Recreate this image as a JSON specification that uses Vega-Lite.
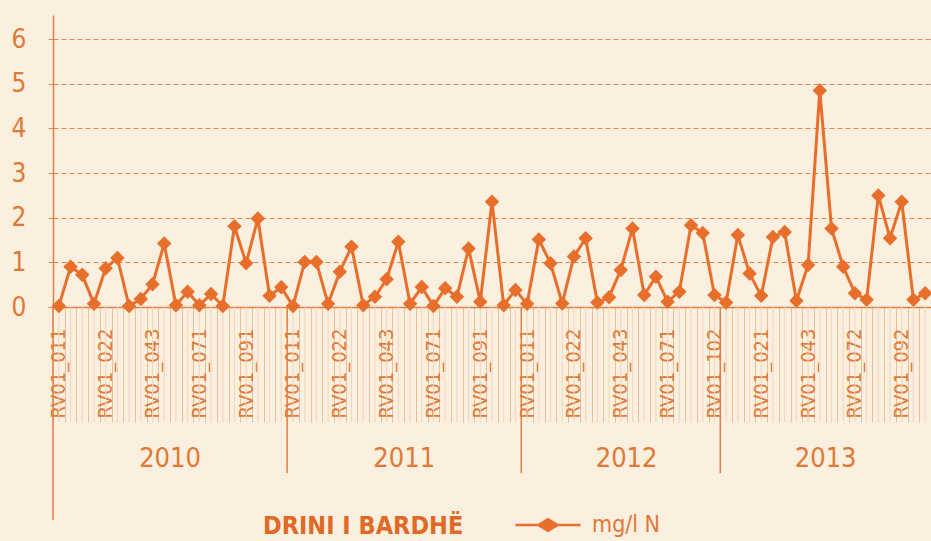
{
  "$schema": "https://vega.github.io/schema/vega-lite/v6.json",
  "autosize": "none",
  "width": 878,
  "height": 292,
  "padding": {"left": 53, "top": 15, "right": 0, "bottom": 234},
  "background": "#FBEFDF",
  "config": {
    "view": {"stroke": null},
    "font": "Liberation Sans Narrow, DejaVu Sans Condensed, sans-serif"
  },
  "data": {
    "values": [
      {"id": "2010 RV01_011", "year": "2010", "value": 0.02},
      {"id": "2010 RV01_012", "year": "2010", "value": 0.9},
      {"id": "2010 RV01_013", "year": "2010", "value": 0.72},
      {"id": "2010 RV01_021", "year": "2010", "value": 0.07},
      {"id": "2010 RV01_022", "year": "2010", "value": 0.87},
      {"id": "2010 RV01_023", "year": "2010", "value": 1.1},
      {"id": "2010 RV01_031", "year": "2010", "value": 0.02},
      {"id": "2010 RV01_042", "year": "2010", "value": 0.18},
      {"id": "2010 RV01_043", "year": "2010", "value": 0.51},
      {"id": "2010 RV01_051", "year": "2010", "value": 1.42},
      {"id": "2010 RV01_061", "year": "2010", "value": 0.04},
      {"id": "2010 RV01_062", "year": "2010", "value": 0.34},
      {"id": "2010 RV01_071", "year": "2010", "value": 0.04},
      {"id": "2010 RV01_072", "year": "2010", "value": 0.29},
      {"id": "2010 RV01_081", "year": "2010", "value": 0.02},
      {"id": "2010 RV01_082", "year": "2010", "value": 1.81},
      {"id": "2010 RV01_091", "year": "2010", "value": 0.98},
      {"id": "2010 RV01_092", "year": "2010", "value": 1.98},
      {"id": "2010 RV01_101", "year": "2010", "value": 0.25},
      {"id": "2010 RV01_102", "year": "2010", "value": 0.44},
      {"id": "2011 RV01_011", "year": "2011", "value": 0.02},
      {"id": "2011 RV01_012", "year": "2011", "value": 1.01},
      {"id": "2011 RV01_013", "year": "2011", "value": 1.01},
      {"id": "2011 RV01_021", "year": "2011", "value": 0.07},
      {"id": "2011 RV01_022", "year": "2011", "value": 0.79},
      {"id": "2011 RV01_023", "year": "2011", "value": 1.35},
      {"id": "2011 RV01_031", "year": "2011", "value": 0.04},
      {"id": "2011 RV01_042", "year": "2011", "value": 0.23},
      {"id": "2011 RV01_043", "year": "2011", "value": 0.62},
      {"id": "2011 RV01_051", "year": "2011", "value": 1.46},
      {"id": "2011 RV01_061", "year": "2011", "value": 0.07},
      {"id": "2011 RV01_062", "year": "2011", "value": 0.45},
      {"id": "2011 RV01_071", "year": "2011", "value": 0.02},
      {"id": "2011 RV01_072", "year": "2011", "value": 0.42},
      {"id": "2011 RV01_081", "year": "2011", "value": 0.23},
      {"id": "2011 RV01_082", "year": "2011", "value": 1.31},
      {"id": "2011 RV01_091", "year": "2011", "value": 0.12},
      {"id": "2011 RV01_092", "year": "2011", "value": 2.36},
      {"id": "2011 RV01_101", "year": "2011", "value": 0.04},
      {"id": "2011 RV01_102", "year": "2011", "value": 0.38},
      {"id": "2012 RV01_011", "year": "2012", "value": 0.07},
      {"id": "2012 RV01_012", "year": "2012", "value": 1.51},
      {"id": "2012 RV01_013", "year": "2012", "value": 0.98},
      {"id": "2012 RV01_021", "year": "2012", "value": 0.08},
      {"id": "2012 RV01_022", "year": "2012", "value": 1.13},
      {"id": "2012 RV01_023", "year": "2012", "value": 1.54},
      {"id": "2012 RV01_031", "year": "2012", "value": 0.1},
      {"id": "2012 RV01_042", "year": "2012", "value": 0.22},
      {"id": "2012 RV01_043", "year": "2012", "value": 0.83},
      {"id": "2012 RV01_051", "year": "2012", "value": 1.76},
      {"id": "2012 RV01_061", "year": "2012", "value": 0.27},
      {"id": "2012 RV01_062", "year": "2012", "value": 0.68},
      {"id": "2012 RV01_071", "year": "2012", "value": 0.12},
      {"id": "2012 RV01_081", "year": "2012", "value": 0.34},
      {"id": "2012 RV01_091", "year": "2012", "value": 1.83},
      {"id": "2012 RV01_101", "year": "2012", "value": 1.66},
      {"id": "2012 RV01_102", "year": "2012", "value": 0.27},
      {"id": "2013 RV01_011", "year": "2013", "value": 0.1},
      {"id": "2013 RV01_012", "year": "2013", "value": 1.61},
      {"id": "2013 RV01_013", "year": "2013", "value": 0.75},
      {"id": "2013 RV01_021", "year": "2013", "value": 0.25},
      {"id": "2013 RV01_022", "year": "2013", "value": 1.57},
      {"id": "2013 RV01_031", "year": "2013", "value": 1.68},
      {"id": "2013 RV01_042", "year": "2013", "value": 0.14},
      {"id": "2013 RV01_043", "year": "2013", "value": 0.94},
      {"id": "2013 RV01_051", "year": "2013", "value": 4.85},
      {"id": "2013 RV01_061", "year": "2013", "value": 1.76},
      {"id": "2013 RV01_062", "year": "2013", "value": 0.9},
      {"id": "2013 RV01_072", "year": "2013", "value": 0.31},
      {"id": "2013 RV01_081", "year": "2013", "value": 0.16},
      {"id": "2013 RV01_082", "year": "2013", "value": 2.5},
      {"id": "2013 RV01_091", "year": "2013", "value": 1.54},
      {"id": "2013 RV01_092", "year": "2013", "value": 2.36},
      {"id": "2013 RV01_101", "year": "2013", "value": 0.16},
      {"id": "2013 RV01_102", "year": "2013", "value": 0.31}
    ]
  },
  "layer": [
    {
      "mark": {"type": "rule", "color": "#F1D5BA", "strokeWidth": 1},
      "encoding": {
        "x": {"field": "id", "type": "nominal", "sort": null, "title": null, "bandPosition": 0.5,
              "scale": {"type": "band", "paddingInner": 0, "paddingOuter": 0}},
        "y": {"datum": 0, "type": "quantitative"},
        "y2": {"datum": -2.58}
      }
    },
    {
      "transform": [{"filter": "indexof(['2011 RV01_011','2012 RV01_011','2013 RV01_011'], datum.id) >= 0"}],
      "mark": {"type": "rule", "color": "#E27F42", "strokeWidth": 1.5},
      "encoding": {
        "x": {"field": "id", "type": "nominal", "sort": null, "title": null, "bandPosition": 0},
        "y": {"datum": 0, "type": "quantitative"},
        "y2": {"datum": -3.72}
      }
    },
    {
      "transform": [{"filter": "datum.id == '2010 RV01_011'"}],
      "mark": {"type": "rule", "color": "#E27F42", "strokeWidth": 1.5},
      "encoding": {
        "x": {"field": "id", "type": "nominal", "sort": null, "title": null, "bandPosition": 0},
        "y": {"datum": 0, "type": "quantitative"},
        "y2": {"datum": -4.77}
      }
    },
    {
      "transform": [{"filter": "indexof(['2010 RV01_061','2011 RV01_061','2012 RV01_051','2013 RV01_061'], datum.id) >= 0"}],
      "mark": {"type": "text", "color": "#E07935", "fontSize": 27, "baseline": "middle", "align": "center",
               "font": "Liberation Sans Narrow, DejaVu Sans Condensed, sans-serif"},
      "encoding": {
        "x": {"field": "id", "type": "nominal", "sort": null, "title": null, "bandPosition": 0},
        "y": {"datum": -3.4, "type": "quantitative"},
        "text": {"field": "year"}
      }
    },
    {
      "mark": {"type": "line", "color": "#E86F2B", "strokeWidth": 3},
      "encoding": {
        "x": {"field": "id", "type": "nominal", "sort": null, "title": null, "bandPosition": 0.5,
              "axis": {
                "orient": "bottom",
                "domainColor": "#E27F42", "domainWidth": 1.5,
                "tickBand": "extent", "tickSize": 115, "tickColor": "#E8C09C", "tickWidth": 1,
                "labelAngle": 270, "labelPadding": -94, "labelFontSize": 20, "labelColor": "#E07935",
                "labelFont": "Liberation Sans Narrow, DejaVu Sans Condensed, sans-serif",
                "labelOverlap": false, "labelBound": false, "grid": false,
                "labelExpr": "indexof(['2010 RV01_011','2010 RV01_022','2010 RV01_043','2010 RV01_071','2010 RV01_091','2011 RV01_011','2011 RV01_022','2011 RV01_043','2011 RV01_071','2011 RV01_091','2012 RV01_011','2012 RV01_022','2012 RV01_043','2012 RV01_071','2012 RV01_102','2013 RV01_021','2013 RV01_043','2013 RV01_072','2013 RV01_092'], datum.value) >= 0 ? substring(datum.value, 5) : ''"
              }},
        "y": {"field": "value", "type": "quantitative", "title": null,
              "scale": {"domain": [0, 6.54], "nice": false, "zero": true},
              "axis": {
                "values": [0, 1, 2, 3, 4, 5, 6],
                "domainColor": "#E27F42", "domainWidth": 1.5,
                "grid": true, "gridColor": "#E8844A", "gridDash": [5, 3], "gridWidth": 1,
                "tickSize": 8, "tickColor": "#E8844A", "tickDash": [5, 3],
                "labelPadding": 19, "labelFontSize": 26, "labelColor": "#E07935",
                "labelFont": "Liberation Sans Narrow, DejaVu Sans Condensed, sans-serif"
              }}
      }
    },
    {
      "mark": {"type": "point", "shape": "diamond", "filled": true, "size": 210, "opacity": 1},
      "encoding": {
        "x": {"field": "id", "type": "nominal", "sort": null, "title": null, "bandPosition": 0.5},
        "y": {"field": "value", "type": "quantitative", "title": null},
        "color": {
          "datum": "mg/l N",
          "scale": {"range": ["#E86F2B"]},
          "legend": {
            "orient": "none", "legendX": 210, "legendY": 476, "direction": "horizontal",
            "title": "DRINI I BARDHË", "titleOrient": "left", "titleFontSize": 25, "titleFontWeight": "bold",
            "titleColor": "#E06A25", "titleFont": "Liberation Sans Narrow, DejaVu Sans Condensed, sans-serif",
            "titlePadding": 50, "titleBaseline": "top", "titleAnchor": "middle", "titleLimit": 500,
            "symbolType": "M-1,0L-0.3,0L0,-0.18L0.3,0L1,0M0.3,0L0,0.18L-0.3,0Z",
            "symbolSize": 4225, "symbolStrokeWidth": 2.5, "symbolStrokeColor": "#E86F2B",
            "symbolFillColor": "#E86F2B", "symbolOpacity": 1,
            "labelFontSize": 23, "labelColor": "#E07935", "labelOffset": 10, "labelLimit": 300,
            "labelFont": "Liberation Sans Narrow, DejaVu Sans Condensed, sans-serif"
          }
        }
      }
    }
  ]
}
